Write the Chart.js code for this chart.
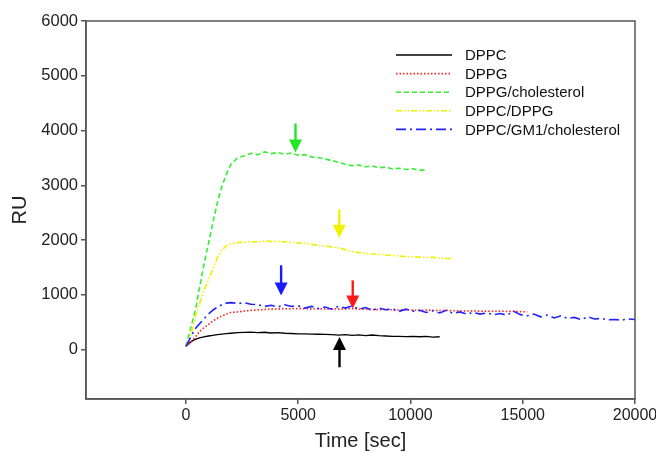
<!DOCTYPE html>
<html>
<head>
<meta charset="utf-8">
<script src="https://cdn.jsdelivr.net/npm/chart.js@4.4.1/dist/chart.umd.min.js"></script>
<style>
  html, body { margin: 0; padding: 0; background: #fff; }
</style>
</head>
<body>
<canvas id="c" width="656" height="458"></canvas>
<script>
/* SPR sensorgrams: RU vs time for five lipid compositions, with arrows. */
const FONT = "'Liberation Sans', Arial, Helvetica, sans-serif";

const timeSec = [
  0, 150, 300, 450, 600, 800, 1000, 1200, 1400, 1600, 1800, 2000,
  2300, 2600, 2900, 3200, 3500, 3800, 4100, 4400, 4700, 5000,
  5300, 5600, 5900, 6200, 6500, 6800, 7100, 7400, 7700, 8000,
  8300, 8600, 8900, 9200, 9500, 9800, 10100, 10400, 10700, 11000,
  11300, 11600, 11900, 12200, 12500, 12800, 13100, 13400, 13700, 14000,
  14300, 14600, 14900, 15200, 15500, 15800, 16100, 16400, 16700, 17000,
  17300, 17600, 17900, 18200, 18500, 18800, 19100, 19400, 19700, 20000
];

const labels = ["DPPC", "DPPG", "DPPG/cholesterol", "DPPC/DPPG", "DPPC/GM1/cholesterol"];

const ruDPPC = [
  60, 120, 165, 192, 215, 235, 250, 262, 275, 285, 292, 300,
  310, 318, 322, 312, 318, 305, 312, 300, 296, 290,
  288, 285, 282, 280, 274, 266, 276, 262, 270, 258,
  268, 256, 250, 244, 243, 240, 242, 236, 244, 230,
  236
];
const ruDPPG = [
  60, 110, 175, 250, 330, 400, 460, 525, 575, 615, 650, 680,
  690, 705, 718, 725, 735, 740, 745, 748, 745, 752,
  748, 745, 750, 742, 748, 740, 745, 750, 742, 738,
  735, 730, 735, 728, 725, 730, 722, 718, 725, 720,
  715, 718, 710, 712, 705, 710, 702, 705, 700, 706,
  698, 702, 695, 690
];
const ruDPPGChol = [
  60, 300, 530, 780, 1120, 1550, 1930, 2320, 2680, 2980, 3200, 3380,
  3500, 3540, 3585, 3560, 3610, 3580, 3600, 3565, 3590, 3550,
  3560, 3520, 3505, 3480, 3455, 3420, 3385, 3360, 3372, 3340,
  3352, 3322, 3333, 3300, 3312, 3290, 3300, 3282, 3270
];
const ruDPPCDPPG = [
  60, 200, 390, 650, 830, 1080, 1270, 1470, 1680, 1820, 1895, 1935,
  1955, 1962, 1972, 1968, 1985, 1975, 1980, 1968, 1960, 1950,
  1940, 1922, 1905, 1895, 1872, 1858, 1822, 1792, 1772, 1760,
  1746, 1740, 1728, 1720, 1708, 1702, 1694, 1690, 1680, 1686,
  1670, 1665, 1660
];
const ruGM1Chol = [
  60, 180, 300, 400, 470, 560, 650, 720, 780, 820, 850, 860,
  845, 855, 830, 820, 790, 810, 780, 820, 790, 800,
  760, 790, 750, 780, 740, 790, 760, 800, 740, 770,
  720, 760, 730, 745, 700, 740, 700, 720, 680, 710,
  670, 720, 660, 690, 650, 680, 650, 670, 640, 660,
  630, 700, 640, 620, 650, 600, 630, 580, 620, 570,
  590, 550, 600, 560, 570, 545, 550, 540, 560, 550
];

const xTicks = [0, 5000, 10000, 15000, 20000];
const yTicks = [0, 1000, 2000, 3000, 4000, 5000, 6000];

// arrows: time, tip RU, tail RU
const arrowTime = [4880, 6830, 4240, 7430, 6840];
const arrowTip  = [3600, 2045, 990, 750, 230];
const arrowTail = [4130, 2560, 1540, 1265, -320];
const arrowColor = ["#22e622", "#f2f200", "#1a1aff", "#ff1a1a", "#000000"];

const series = [ruDPPC, ruDPPG, ruDPPGChol, ruDPPCDPPG, ruGM1Chol];
const styles = [
  { color: "#000000", dash: [], width: 1.3 },
  { color: "#ff2020", dash: [1.5, 2], width: 1.6 },
  { color: "#33ee33", dash: [5, 3], width: 1.6 },
  { color: "#f0f000", dash: [6, 2, 1.5, 2, 1.5, 2], width: 1.6 },
  { color: "#2222ff", dash: [10, 4, 2, 4], width: 1.6 }
];

const datasets = series.map((vals, i) => ({
  label: labels[i],
  data: vals.map((v, k) => ({ x: timeSec[k], y: v })),
  borderColor: styles[i].color,
  borderDash: styles[i].dash,
  borderWidth: styles[i].width,
  pointRadius: 0, tension: 0, fill: false,
  order: 5 - i
}));

const framePlugin = {
  id: "frame",
  afterDatasetsDraw(chart) {
    const { ctx, chartArea: a } = chart;
    ctx.save();
    ctx.strokeStyle = "#555"; ctx.lineWidth = 1.5;
    ctx.strokeRect(a.left, a.top, a.right - a.left, a.bottom - a.top);
    ctx.restore();
  }
};

const arrowPlugin = {
  id: "arrows",
  afterDatasetsDraw(chart) {
    const { ctx, scales: { x, y } } = chart;
    ctx.save();
    arrowTime.forEach((t, i) => {
      const px = x.getPixelForValue(t);
      const y1 = y.getPixelForValue(arrowTail[i]);
      const y2 = y.getPixelForValue(arrowTip[i]);
      const dir = Math.sign(y2 - y1);
      ctx.strokeStyle = ctx.fillStyle = arrowColor[i];
      ctx.lineWidth = 2.4;
      ctx.beginPath(); ctx.moveTo(px, y1); ctx.lineTo(px, y2 - dir * 10); ctx.stroke();
      ctx.beginPath();
      ctx.moveTo(px - 6.5, y2 - dir * 13);
      ctx.lineTo(px + 6.5, y2 - dir * 13);
      ctx.lineTo(px, y2);
      ctx.closePath(); ctx.fill();
    });
    ctx.restore();
  }
};

const legendPlugin = {
  id: "innerLegend",
  afterDraw(chart) {
    const ctx = chart.ctx;
    ctx.save();
    ctx.font = "15px " + FONT;
    ctx.textBaseline = "middle";
    chart.data.datasets.forEach((d, i) => {
      const yy = 55 + i * 18.6;
      ctx.strokeStyle = d.borderColor; ctx.lineWidth = d.borderWidth;
      ctx.setLineDash(d.borderDash);
      ctx.beginPath(); ctx.moveTo(396, yy); ctx.lineTo(452, yy); ctx.stroke();
      ctx.setLineDash([]);
      ctx.fillStyle = "#111";
      ctx.fillText(d.label, 465, yy + 1);
    });
    ctx.restore();
  }
};

new Chart(document.getElementById("c"), {
  type: "line",
  data: { datasets },
  options: {
    responsive: false, animation: false, devicePixelRatio: 1,
    layout: { padding: { top: 21, right: 21, left: 0, bottom: 0 } },
    plugins: { legend: { display: false }, tooltip: { enabled: false } },
    scales: {
      x: {
        type: "linear", min: -4450, max: 20000,
        afterBuildTicks: s => { s.ticks = xTicks.map(v => ({ value: v })); },
        afterFit: s => { s.height = 59; s.paddingLeft = 0; s.paddingRight = 0; },
        grid: { drawOnChartArea: false, tickLength: 5, color: "#555", lineWidth: 1.5 },
        border: { color: "#555", width: 1.5 },
        ticks: { color: "#222", font: { size: 16, family: FONT }, padding: 2, maxRotation: 0, autoSkip: false, callback: v => String(v) },
        title: { display: true, text: "Time [sec]", color: "#222", font: { size: 20, family: FONT }, padding: { top: 0, bottom: 5 } }
      },
      y: {
        type: "linear", min: -900, max: 6000,
        afterBuildTicks: s => { s.ticks = yTicks.map(v => ({ value: v })); },
        afterFit: s => { s.width = 86; },
        grid: { drawOnChartArea: false, tickLength: 5, color: "#555", lineWidth: 1.5 },
        border: { color: "#555", width: 1.5 },
        ticks: { color: "#222", font: { size: 16.5, family: FONT }, padding: 3, autoSkip: false, callback: v => String(v) },
        title: { display: true, text: "RU", color: "#222", font: { size: 20, family: FONT }, padding: { top: 8, bottom: 0 } }
      }
    }
  },
  plugins: [framePlugin, arrowPlugin, legendPlugin]
});
</script>
</body>
</html>
